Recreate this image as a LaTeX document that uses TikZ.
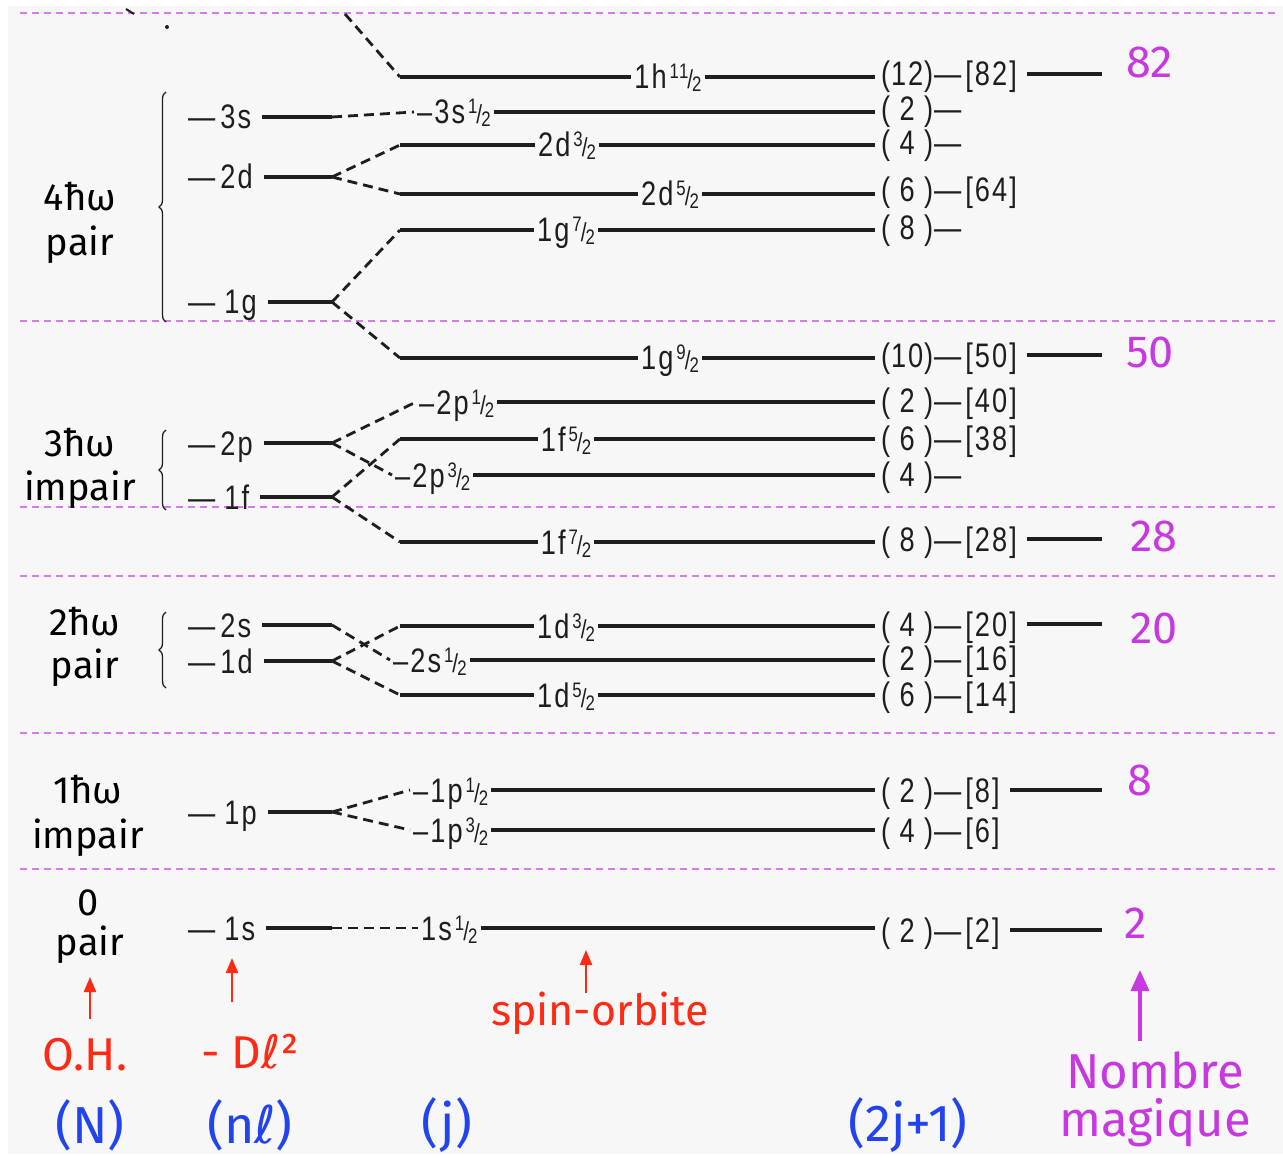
\documentclass[tikz,border=0pt]{standalone}
\usepackage{fontspec}
\setmainfont{Fira Sans}
\newfontfamily\lvf{Liberation Sans}[FakeStretch=0.8,LetterSpace=6]
\newfontfamily\dvs{DejaVu Sans}
\usetikzlibrary{arrows.meta,decorations.pathreplacing}
\definecolor{bgc}{HTML}{F7F7F7}
\definecolor{ink}{HTML}{1E1E1E}
\definecolor{sepc}{HTML}{D67EE8}
\definecolor{magc}{HTML}{C838E0}
\definecolor{redc}{HTML}{FF2A14}
\definecolor{bluec}{HTML}{2244EE}
\newcommand\frc[2]{\kern3pt\raisebox{10pt}{\fontsize{21}{21}\selectfont #1}\kern-1pt{\fontsize{26}{26}\selectfont/}\kern-1pt\raisebox{-3pt}{\fontsize{21}{21}\selectfont #2}}
\tikzset{
  lvl/.style={ink, line width=3.3pt},
  conn/.style={ink, line width=2.8pt, dash pattern=on 10pt off 6pt},
  sepline/.style={sepc, line width=1.8pt, dash pattern=on 7pt off 5pt},
  jlab/.style={inner sep=3pt, text height=24pt, text depth=0pt, text=ink, font=\lvf\fontsize{34}{34}\selectfont},
  nlab/.style={inner sep=0pt, anchor=west, text height=24pt, text depth=0pt, text=ink, font=\lvf\fontsize{34}{34}\selectfont},
  deglab/.style={inner sep=0pt, anchor=west, text height=24pt, text depth=0pt, text=ink, font=\lvf\fontsize{34}{34}\selectfont},
  grp/.style={inner sep=0pt, text=black, font=\fontsize{38}{40}\selectfont},
  magic/.style={inner sep=0pt, anchor=base west, text=magc, font=\fontsize{45}{45}\selectfont},
  redlab/.style={inner sep=0pt, text=redc, font=\fontsize{46}{48}\selectfont},
  bluelab/.style={inner sep=0pt, text=bluec, font=\fontsize{52}{54}\selectfont},
  maglab/.style={inner sep=0pt, text=magc, font=\fontsize{49}{51}\selectfont},
  redarr/.style={redc, line width=2.2pt, -{Triangle[length=15pt,width=12pt]}},
  magarr/.style={magc, line width=3.8pt, -{Triangle[length=21pt,width=18pt]}},
  bracestyle/.style={ink, line width=1.3pt, decorate, decoration={brace, amplitude=7pt}}
}
% j level with a plain line before the label
\newcommand\jline[5]{%
  \coordinate (#1s) at (#3,#2);
  \node[jlab] (#1) at (#4,#2) {#5};
  \coordinate (#1e) at (875,#2);
  \draw[lvl] (#1s) -- (#1.west);
  \draw[lvl] (#1.east) -- (#1e);}
% j level whose label starts the line
\newcommand\jdash[4]{%
  \node[jlab,anchor=west] (#1) at (#3,#2) {#4};
  \coordinate (#1e) at (875,#2);
  \draw[lvl] (#1.east) -- (#1e);}
% degeneracy column
\newcommand\jdeg[3]{%
  \node[deglab] (#1d) at (881,#2) {#3};}
% n-l level
\newcommand\nlev[3]{%
  \node[nlab] (#1) at (188,#2) {#3};
  \coordinate (#1R) at (332,#2);
  \draw[lvl] ([xshift=11pt]#1.east) -- (#1R);}
\newcommand\dg[1]{\makebox[52pt][s]{(\hfil #1\hfil)}\kern1pt—\kern4pt}
\newcommand\emd{—\kern5pt}
\begin{document}
\begin{tikzpicture}[x=1pt,y=-1pt]
\useasboundingbox (0,0) rectangle (1283,1158);
\fill[white] (0,0) rectangle (1283,1158);
\fill[bgc] (8,6) rectangle (1283,1154);

% separators
\foreach \yy in {13,321,507,576,733,869}
  \draw[sepline] (20,\yy) -- (1276,\yy);

% scan remnants top-left
\draw[ink, line width=2pt] (126,9) -- (134,14);
\fill[ink] (167,27) circle (2pt);

% group labels
\node[grp] (g4a) at (80,197) {4ħω};
\node[grp] (g4b) at (80,245) {pair};
\node[grp] (g3a) at (80,443) {3ħω};
\node[grp] (g3b) at (80,490) {impair};
\node[grp] (g2a) at (85,622) {2ħω};
\node[grp] (g2b) at (85,668) {pair};
\node[grp] (g1a) at (88,790) {1ħω};
\node[grp] (g1b) at (88,838) {impair};
\node[grp] (g0a) at (88,903) {0};
\node[grp] (g0b) at (90,945) {pair};

% braces
\draw[bracestyle] (166,322) -- (166,92);
\draw[bracestyle] (166,510) -- (166,430);
\draw[bracestyle] (166,688) -- (166,612);

% n-l levels
\nlev{n3s}{117}{\emd 3s}
\nlev{n2d}{177}{\emd 2d}
\nlev{n1g}{302}{\emd\kern4pt 1g}
\nlev{n2p}{443}{\emd 2p}
\nlev{n1f}{497}{\emd\kern4pt 1f}
\nlev{n2s}{625}{\emd 2s}
\nlev{n1d}{661}{\emd 1d}
\nlev{n1p}{812}{\emd\kern4pt 1p}
\nlev{n1s}{928}{\emd\kern4pt 1s}

% j levels
\jline{j1h}{77}{400}{668}{1h\frc{11}{2}}
\jdash{j3s}{112}{414}{–3s\frc{1}{2}}
\jline{j2d3}{145}{400}{567}{2d\frc{3}{2}}
\jline{j2d5}{194}{400}{670}{2d\frc{5}{2}}
\jline{j1g7}{230}{400}{566}{1g\frc{7}{2}}
\jline{j1g9}{358}{400}{670}{1g\frc{9}{2}}
\jdash{j2p1}{402}{416}{–2p\frc{1}{2}}
\jline{j1f5}{439}{400}{566}{1f\frc{5}{2}}
\jdash{j2p3}{475}{392}{–2p\frc{3}{2}}
\jline{j1f7}{542}{400}{566}{1f\frc{7}{2}}
\jline{j1d3}{626}{400}{566}{1d\frc{3}{2}}
\jdash{j2s}{660}{390}{–2s\frc{1}{2}}
\jline{j1d5}{695}{400}{566}{1d\frc{5}{2}}
\jdash{j1p1}{790}{410}{–1p\frc{1}{2}}
\jdash{j1p3}{830}{410}{–1p\frc{3}{2}}
\jdash{j1s}{928}{418}{1s\frc{1}{2}}

% degeneracies
\jdeg{j1h}{74}{\dg{12}[82]}
\jdeg{j3s}{109}{\dg{2}}
\jdeg{j2d3}{143}{\dg{4}}
\jdeg{j2d5}{190}{\dg{6}[64]}
\jdeg{j1g7}{228}{\dg{8}}
\jdeg{j1g9}{355}{\dg{10}[50]}
\jdeg{j2p1}{401}{\dg{2}[40]}
\jdeg{j1f5}{438}{\dg{6}[38]}
\jdeg{j2p3}{474}{\dg{4}}
\jdeg{j1f7}{539}{\dg{8}[28]}
\jdeg{j1d3}{624}{\dg{4}[20]}
\jdeg{j2s}{658}{\dg{2}[16]}
\jdeg{j1d5}{694}{\dg{6}[14]}
\jdeg{j1p1}{790}{\dg{2}[8]}
\jdeg{j1p3}{830}{\dg{4}[6]}
\jdeg{j1s}{930}{\dg{2}[2]}

% magic numbers
\node[magic] (m82) at (1126,78) {82};
\node[magic] (m50) at (1126,368) {50};
\node[magic] (m28) at (1130,551) {28};
\node[magic] (m20) at (1130,643) {20};
\node[magic] (m8) at (1127,795) {8};
\node[magic] (m2) at (1124,938) {2};
\coordinate (m82l) at (1102,74);
\coordinate (m50l) at (1102,355);
\coordinate (m28l) at (1102,539);
\coordinate (m20l) at (1102,624);
\coordinate (m8l) at (1102,790);
\coordinate (m2l) at (1102,930);
\draw[lvl] ([xshift=10pt]j1hd.east) -- (m82l);
\draw[lvl] ([xshift=10pt]j1g9d.east) -- (m50l);
\draw[lvl] ([xshift=10pt]j1f7d.east) -- (m28l);
\draw[lvl] ([xshift=10pt]j1d3d.east) -- (m20l);
\draw[lvl] ([xshift=10pt]j1p1d.east) -- (m8l);
\draw[lvl] ([xshift=10pt]j1sd.east) -- (m2l);

% connectors
\coordinate (top1h) at (345,14);
\draw[conn] (top1h) -- (j1hs);
\draw[conn] (n3sR) -- (j3s.west);
\draw[conn] (n2dR) -- (j2d3s);
\draw[conn] (n2dR) -- (j2d5s);
\draw[conn] (n1gR) -- (j1g7s);
\draw[conn] (n1gR) -- (j1g9s);
\draw[conn] (n2pR) -- (j2p1.west);
\draw[conn] (n2pR) -- (j2p3.west);
\draw[conn] (n1fR) -- (j1f5s);
\draw[conn] (n1fR) -- (j1f7s);
\draw[conn] (n2sR) -- (j2s.west);
\draw[conn] (n1dR) -- (j1d3s);
\draw[conn] (n1dR) -- (j1d5s);
\draw[conn] (n1pR) -- (j1p1.west);
\draw[conn] (n1pR) -- (j1p3.west);
\draw[conn] (n1sR) -- (j1s.west);

% bottom labels
\node[redlab] (oh) at (85,1055) {O.H.};
\node[redlab] (dl) at (250,1052) {- D{\dvs ℓ}²};
\node[redlab, font=\fontsize{43}{45}\selectfont] (so) at (600,1013) {spin-orbite};
\node[maglab] (nb) at (1155,1070) {Nombre};
\node[maglab] (mg) at (1155,1123) {magique};
\node[bluelab] (bN) at (90,1125) {(N)};
\node[bluelab] (bnl) at (250,1125) {(n{\dvs ℓ})};
\node[bluelab] (bj) at (447,1125) {(j)};
\node[bluelab] (b2j) at (908,1125) {(2j+1)};

\coordinate (ohT) at (90,977);
\coordinate (dlT) at (232,958);
\coordinate (soT) at (586,950);
\coordinate (nbT) at (1140,970);
\draw[redarr] ([xshift=5pt,yshift=19pt]oh.north) -- (ohT);
\draw[redarr] ([xshift=-18pt,yshift=32pt]dl.north) -- (dlT);
\draw[redarr] ([xshift=-14pt,yshift=-2pt]so.north) -- (soT);
\draw[magarr] ([xshift=-15pt,yshift=10pt]nb.north) -- (nbT);
\end{tikzpicture}
\end{document}
